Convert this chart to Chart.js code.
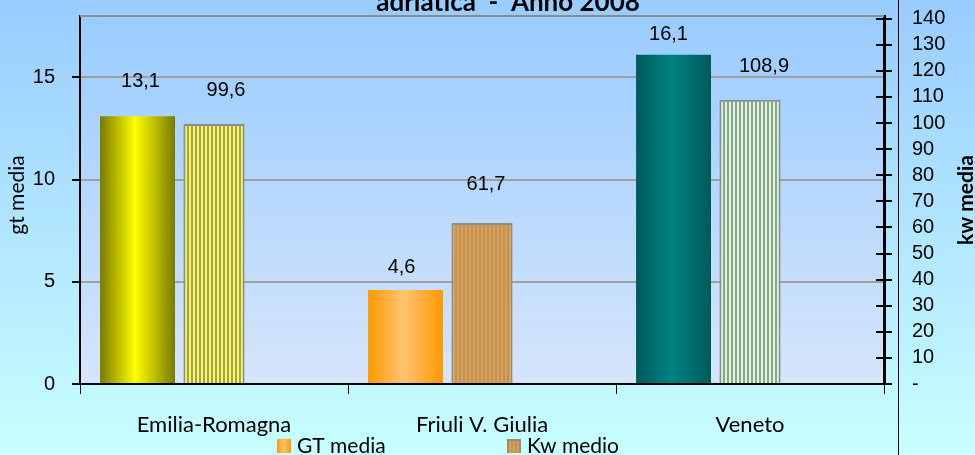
<!DOCTYPE html>
<html>
<head>
<meta charset="utf-8">
<script src="https://cdn.jsdelivr.net/npm/chart.js@4.4.1/dist/chart.umd.min.js"></script>
<style>
  html, body { margin: 0; padding: 0; background: #C6FFFF; }
  #wrap { width: 975px; height: 455px; }
</style>
</head>
<body>
<div id="wrap"><canvas id="chart" width="975" height="455"></canvas></div>
<script>
// dati
const regioni = ['Emilia-Romagna', 'Friuli V. Giulia', 'Veneto'];
const gtMedia = [13.1, 4.6, 16.1];
const kwMedio = [99.6, 61.7, 108.9];
const titolo = 'adriatica  -  Anno 2008';

// colori per regione: [bordo, centro] per i cilindri GT, tinta delle righe per Kw
const gtColori = [['#7A7A00', '#FFFF00'], ['#FF9900', '#FFC470'], ['#005A5A', '#008282']];
const kwColori = ['#FFFF1A', '#FF9A10', '#CCFFCC'];

// spostamento etichette (come nel grafico originale)
const gtGap = [35, 22, 20], gtDx = [3, -4, -5];
const kwGap = [34, 38, 33], kwDx = [12, 4, 14];

const canvas = document.getElementById('chart');
const ctx = canvas.getContext('2d');

function righe(colore) {
  const c = document.createElement('canvas');
  c.width = 4; c.height = 4;
  const g = c.getContext('2d');
  g.fillStyle = '#9A9A9A';
  g.fillRect(0, 0, 4, 4);
  g.fillStyle = colore;
  g.fillRect(1, 0, 2, 4);
  return ctx.createPattern(c, 'repeat');
}

function cilindro(c, x0, x1, col) {
  const gr = c.createLinearGradient(x0, 0, x1, 0);
  gr.addColorStop(0, col[0]);
  gr.addColorStop(0.47, col[1]);
  gr.addColorStop(1, col[0]);
  return gr;
}

const fmt = v => String(v).replace('.', ',');

// niente margini extra attorno all'area del grafico
function fissa(larghezza, altezza) {
  return s => {
    if (larghezza) s.width = larghezza;
    if (altezza) s.height = altezza;
    s.paddingTop = 0; s.paddingBottom = 0;
    s.paddingLeft = 0; s.paddingRight = 0;
  };
}

const decor = {
  id: 'decor',
  beforeDraw(chart) {
    const c = chart.ctx, a = chart.chartArea;
    // sfondo esterno
    const bg = c.createLinearGradient(0, 0, 0, chart.height);
    bg.addColorStop(0, '#99CCFF');
    bg.addColorStop(1, '#C8FFFF');
    c.fillStyle = bg;
    c.fillRect(0, 0, chart.width, chart.height);
    // area del grafico
    const pa = c.createLinearGradient(0, a.top, 0, a.bottom);
    pa.addColorStop(0, '#99CCFF');
    pa.addColorStop(1, '#D6E5FB');
    c.fillStyle = pa;
    c.fillRect(a.left, a.top, a.right - a.left, a.bottom - a.top);
  },
  beforeDatasetsDraw(chart) {
    // gradiente cilindrico sulle barre GT
    const meta = chart.getDatasetMeta(0);
    meta.data.forEach((el, i) => {
      const x0 = el.x - el.width / 2, x1 = el.x + el.width / 2;
      el.options = Object.assign({}, el.options, { backgroundColor: cilindro(chart.ctx, x0, x1, gtColori[i]) });
    });
  },
  afterDatasetsDraw(chart) {
    const c = chart.ctx;
    c.save();
    c.font = '20px "Liberation Sans", Arial, sans-serif';
    c.fillStyle = '#000';
    c.textAlign = 'center';
    c.textBaseline = 'middle';
    chart.getDatasetMeta(0).data.forEach((el, i) => {
      c.fillText(fmt(gtMedia[i]), el.x + gtDx[i], el.y - gtGap[i]);
    });
    chart.getDatasetMeta(1).data.forEach((el, i) => {
      c.fillText(fmt(kwMedio[i]), el.x + kwDx[i], el.y - kwGap[i]);
    });
    c.restore();
  },
  afterDraw(chart) {
    const c = chart.ctx, a = chart.chartArea;
    const y1 = chart.scales.y1;
    c.save();
    // linea grigia in alto
    c.strokeStyle = '#8C8C8C';
    c.lineWidth = 2;
    c.beginPath();
    c.moveTo(a.left, a.top);
    c.lineTo(a.right, a.top);
    c.stroke();
    // tacche interne asse destro
    c.strokeStyle = '#000';
    c.lineWidth = 2;
    y1.ticks.forEach(t => {
      const y = Math.round(y1.getPixelForValue(t.value));
      c.beginPath();
      c.moveTo(a.right - 8, y);
      c.lineTo(a.right, y);
      c.stroke();
    });
    // linea verticale sottile
    c.lineWidth = 1;
    c.beginPath();
    c.moveTo(a.right + 14.5, 0);
    c.lineTo(a.right + 14.5, chart.height);
    c.stroke();
    // titolo (tagliato in alto)
    c.fillStyle = '#000';
    c.textAlign = 'center';
    c.textBaseline = 'alphabetic';
    c.font = 'bold 26px Lato, sans-serif';
    c.fillText(titolo, 508, 11);
    // titoli assi
    c.textBaseline = 'middle';
    c.save();
    c.translate(17, 195);
    c.rotate(-Math.PI / 2);
    c.font = '21px Lato, sans-serif';
    c.fillText('gt media', 0, 0);
    c.restore();
    c.save();
    c.translate(966, 200);
    c.rotate(-Math.PI / 2);
    c.font = 'bold 21px Lato, sans-serif';
    c.fillText('kw media', 0, 0);
    c.restore();
    // legenda
    const ly = 439;
    c.fillStyle = cilindro(c, 277, 291, [gtColori[1][0], gtColori[1][1]]);
    c.fillRect(277, ly, 14, 14);
    c.fillStyle = '#8C8C8C';
    c.fillRect(507, ly, 14, 14);
    c.fillStyle = righe(kwColori[1]);
    c.fillRect(509, ly + 2, 10, 12);
    c.fillStyle = '#000';
    c.textAlign = 'left';
    c.font = '21px Lato, sans-serif';
    c.fillText(chart.data.datasets[0].label, 297, ly + 7);
    c.fillText(chart.data.datasets[1].label, 527, ly + 7);
    c.restore();
  }
};

new Chart(canvas, {
  type: 'bar',
  data: {
    labels: regioni,
    datasets: [
      {
        label: 'GT media',
        data: gtMedia,
        yAxisID: 'y',
        backgroundColor: gtColori.map(c => c[1]),
        borderWidth: 0,
        barPercentage: 0.98,
        categoryPercentage: 0.856
      },
      {
        label: 'Kw medio',
        data: kwMedio,
        yAxisID: 'y1',
        backgroundColor: kwColori.map(righe),
        borderColor: '#8C8C8C',
        borderWidth: 2,
        barPercentage: 0.8,
        categoryPercentage: 0.856
      },
      {
        // serie vuota: occupa il terzo posto del gruppo come in Excel
        label: '',
        data: regioni.map(() => null),
        yAxisID: 'y',
        barPercentage: 0.8,
        categoryPercentage: 0.856
      }
    ]
  },
  options: {
    responsive: false,
    animation: false,
    layout: { padding: { top: 16, left: 0, right: 0, bottom: 0 } },
    plugins: {
      legend: { display: false },
      tooltip: { enabled: false }
    },
    scales: {
      x: {
        grid: { offset: true, drawOnChartArea: false, color: '#000', tickLength: 10, lineWidth: 1 },
        border: { color: '#000', width: 2 },
        ticks: { color: '#000', font: { family: 'Lato', size: 22 }, padding: 18 },
        afterFit: fissa(0, 71)
      },
      y: {
        position: 'left',
        min: 0,
        max: 18,
        ticks: {
          stepSize: 5,
          includeBounds: false,
          color: '#000',
          font: { family: 'Liberation Sans', size: 20 },
          padding: 17
        },
        grid: { color: '#A0A0A0', lineWidth: 2, tickColor: '#000', tickLength: 8 },
        border: { color: '#000', width: 2 },
        afterFit: fissa(80, 0)
      },
      y1: {
        position: 'right',
        min: 0,
        max: 141,
        ticks: {
          stepSize: 10,
          autoSkip: false,
          includeBounds: false,
          color: '#000',
          font: { family: 'Liberation Sans', size: 20 },
          padding: 20,
          callback: v => v === 0 ? '-' : v
        },
        grid: { drawOnChartArea: false, color: '#000', tickLength: 8, lineWidth: 2 },
        border: { color: '#000', width: 3 },
        afterFit: fissa(91, 0)
      }
    }
  },
  plugins: [decor]
});
</script>
</body>
</html>
